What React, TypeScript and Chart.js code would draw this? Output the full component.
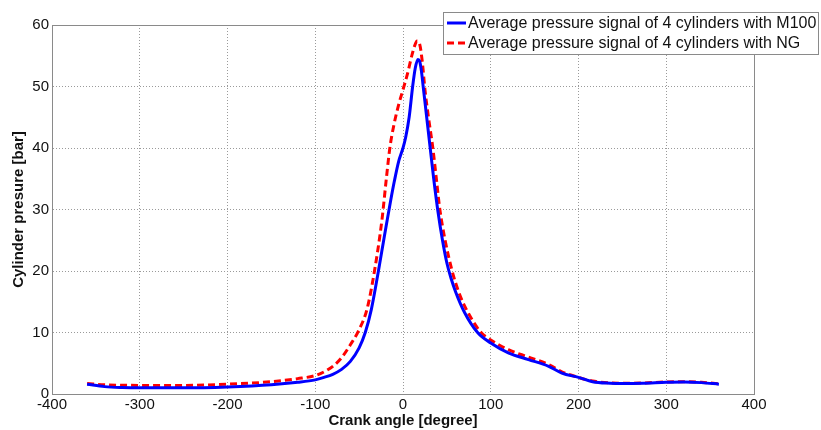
import React, { useEffect, useRef } from "react";
import { Chart, registerables } from "chart.js";

Chart.register(...registerables);

const m100Angles = [-360, -340, -320, -300, -250, -200, -150, -120, -100, -90, -80, -70, -60, -50, -43, -36, -28, -22, -18, -14, -10, -5, 0, 3, 7, 11, 14, 17, 19, 21, 23, 27, 31, 35, 40, 45, 50, 55, 60, 70, 85, 100, 120, 143, 166, 181, 200, 216, 236, 250, 274, 300, 320, 340, 360];
const m100Pressure = [1.6, 1.2, 1.05, 1.0, 1.0, 1.15, 1.5, 1.9, 2.3, 2.7, 3.2, 4.0, 5.3, 7.5, 10, 13.8, 20, 25, 28.3, 31.5, 34.5, 37.8, 40, 41.7, 45, 50, 53, 54.4, 54.1, 52.5, 50, 45, 40, 35, 29.5, 25, 21.3, 18.7, 16.6, 13.3, 10, 8.3, 6.7, 5.6, 4.5, 3.4, 2.7, 2.0, 1.75, 1.7, 1.75, 1.9, 1.95, 1.85, 1.6];

const ngAngles = [-360, -340, -300, -250, -200, -150, -120, -100, -90, -80, -70, -60, -51, -41, -32.5, -24, -19, -15, -10, -5, 0, 5, 10, 13, 16, 19, 22, 25, 29, 34, 38, 42, 48, 56, 65, 75, 89, 100, 120, 143, 166, 181, 200, 216, 236, 250, 274, 300, 320, 340, 360];
const ngPressure = [1.7, 1.5, 1.4, 1.4, 1.6, 2.0, 2.5, 3.0, 3.6, 4.5, 5.9, 8.0, 10.2, 13.8, 20, 28.3, 35, 40, 44, 47, 49.5, 52, 55, 56.5, 57.4, 56.9, 54, 49.5, 45, 40, 35, 30, 25, 20, 16, 13, 10, 8.8, 7.2, 6.0, 4.8, 3.6, 2.7, 2.1, 1.8, 1.75, 1.8, 1.95, 2.0, 1.9, 1.65];

const seriesLabels = [
  "Average pressure signal of 4 cylinders with M100",
  "Average pressure signal of 4 cylinders with NG",
];

const xTitle = "Crank angle [degree]";
const yTitle = "Cylinder presure [bar]";

const FONT = "Arial, 'Liberation Sans', sans-serif";

const framePlugin = {
  id: "frameAndLegend",
  afterDraw(chart: any) {
    const { ctx, chartArea } = chart;
    ctx.save();
    ctx.strokeStyle = "#8a8a8a";
    ctx.lineWidth = 1;
    ctx.setLineDash([]);
    ctx.strokeRect(
      Math.round(chartArea.left) + 0.5,
      Math.round(chartArea.top) + 0.5,
      Math.round(chartArea.right - chartArea.left),
      Math.round(chartArea.bottom - chartArea.top)
    );
    const bx = 443.5, by = 12.5, bw = 375, bh = 42;
    ctx.fillStyle = "#ffffff";
    ctx.fillRect(bx, by, bw, bh);
    ctx.strokeStyle = "#8a8a8a";
    ctx.strokeRect(bx, by, bw, bh);
    const ds = chart.data.datasets;
    const rows = [23, 43];
    ds.forEach((d: any, i: number) => {
      ctx.beginPath();
      ctx.lineWidth = 3;
      ctx.strokeStyle = d.borderColor;
      ctx.setLineDash(d.borderDash || []);
      ctx.moveTo(447, rows[i]);
      ctx.lineTo(466, rows[i]);
      ctx.stroke();
      ctx.setLineDash([]);
      ctx.fillStyle = "#111";
      ctx.font = "16px " + FONT;
      ctx.textBaseline = "middle";
      ctx.textAlign = "left";
      ctx.fillText(d.label, 468, rows[i] + 1);
    });
    ctx.restore();
  },
};

export default function App() {
  const ref = useRef<HTMLCanvasElement | null>(null);
  useEffect(() => {
    if (!ref.current) return;
    const chart = new Chart(ref.current, {
      type: "line",
      data: {
        datasets: [
          {
            label: seriesLabels[0],
            data: m100Angles.map((a, i) => ({ x: a, y: m100Pressure[i] })),
            borderColor: "#0000ff",
            borderWidth: 3,
            pointRadius: 0,
            cubicInterpolationMode: "monotone",
            fill: false,
          },
          {
            label: seriesLabels[1],
            data: ngAngles.map((a, i) => ({ x: a, y: ngPressure[i] })),
            borderColor: "#ff0000",
            borderWidth: 3,
            borderDash: [7, 4],
            pointRadius: 0,
            cubicInterpolationMode: "monotone",
            fill: false,
          },
        ],
      },
      options: {
        animation: false,
        responsive: false,
        maintainAspectRatio: false,
        layout: { padding: { top: 25, right: 67, left: 0, bottom: 0 } },
        plugins: { legend: { display: false }, tooltip: { enabled: false } },
        scales: {
          x: {
            type: "linear",
            min: -400,
            max: 400,
            afterFit: (s: any) => {
              s.height = 36;
            },
            ticks: {
              stepSize: 100,
              padding: 2,
              color: "#111",
              font: { family: FONT, size: 15 },
              maxRotation: 0,
            },
            grid: { color: "#9a9a9a", drawTicks: false, lineWidth: 1 },
            border: { display: true, color: "#8a8a8a", dash: [1, 2] },
            title: {
              display: true,
              text: xTitle,
              color: "#111",
              font: { family: FONT, size: 15, weight: "bold" },
              padding: { top: 0, bottom: 0 },
            },
          },
          y: {
            min: 0,
            max: 60,
            afterFit: (s: any) => {
              s.width = 52;
            },
            ticks: {
              stepSize: 10,
              padding: 3,
              color: "#111",
              font: { family: FONT, size: 15 },
            },
            grid: { color: "#9a9a9a", drawTicks: false, lineWidth: 1 },
            border: { display: true, color: "#8a8a8a", dash: [1, 2] },
            title: {
              display: true,
              text: yTitle,
              color: "#111",
              font: { family: FONT, size: 15, weight: "bold" },
              padding: { top: 10, bottom: 0 },
            },
          },
        },
      },
      plugins: [framePlugin],
    } as any);
    return () => chart.destroy();
  }, []);
  return (
    <div style={{ position: "absolute", left: 0, top: 0, width: 821, height: 430, background: "#fff" }}>
      <canvas ref={ref} width={821} height={430} style={{ width: 821, height: 430, display: "block" }} />
    </div>
  );
}
